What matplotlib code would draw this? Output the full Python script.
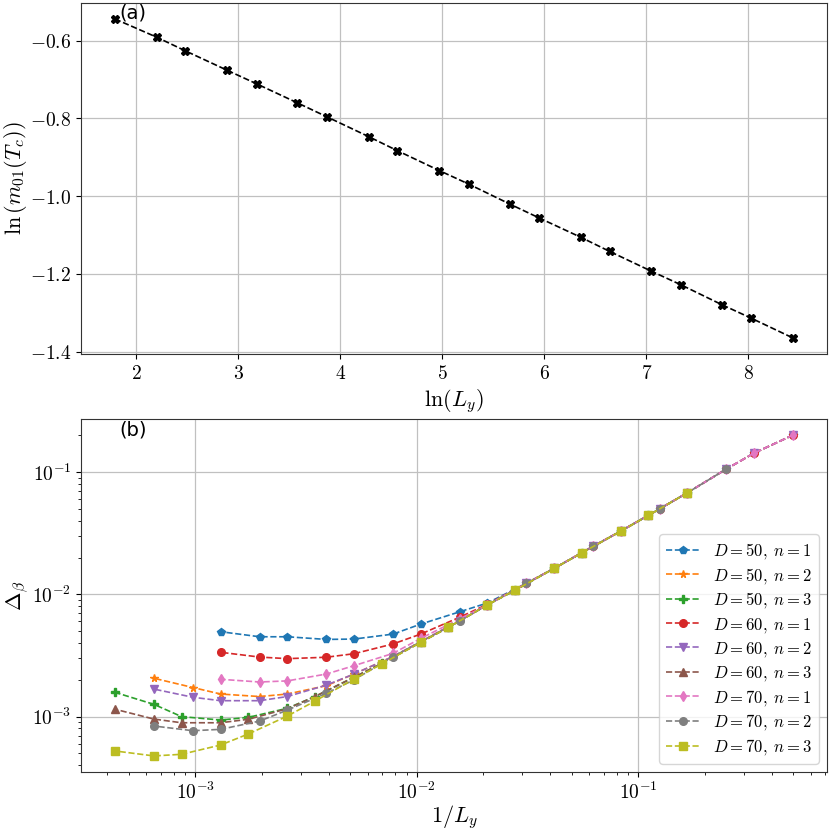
import matplotlib
matplotlib.use('Agg')
import matplotlib.pyplot as plt
from matplotlib.ticker import FuncFormatter, NullFormatter
import numpy as np

plt.rcParams['mathtext.fontset'] = 'cm'
plt.rcParams['font.size'] = 14
plt.rcParams['xtick.labelsize'] = 14
plt.rcParams['ytick.labelsize'] = 14

# ---------- panel (a) data ----------
ln_Ly = [1.79, 2.20, 2.48, 2.89, 3.18, 3.58, 3.87, 4.28, 4.56, 4.97,
         5.26, 5.66, 5.95, 6.36, 6.64, 7.05, 7.34, 7.74, 8.03, 8.44]
ln_m01 = [-0.544, -0.591, -0.626, -0.676, -0.711, -0.760, -0.796, -0.847, -0.883, -0.934,
          -0.969, -1.020, -1.056, -1.106, -1.142, -1.193, -1.228, -1.279, -1.314, -1.365]

# ---------- panel (b) data ----------
Ly_n12 = [2, 3, 4, 6, 8, 12, 16, 24, 32, 48, 64, 96, 128, 192, 256, 384, 512, 768]
Ly_n2 = [2, 3, 4, 6, 8, 12, 16, 24, 32, 48, 64, 96, 128, 192, 256, 384, 512, 768, 1024, 1536]
Ly_n3 = [6, 9, 12, 18, 24, 36, 48, 72, 96, 144, 192, 288, 384, 576, 768, 1152, 1536, 2304]
Ly_g = [4, 6, 8, 12, 16, 24, 32, 48, 64, 96, 128, 192, 256, 384, 512, 768, 1024, 1536]

d50_n1 = [0.201, 0.143, 0.106, 0.0678, 0.0501, 0.0329, 0.0247, 0.0163, 0.0123, 0.0085,
          0.0072, 0.00571, 0.00473, 0.00431, 0.00428, 0.00450, 0.00450, 0.00495]
d50_n2 = [0.201, 0.143, 0.106, 0.0678, 0.0501, 0.0329, 0.0247, 0.0163, 0.0123, 0.0082,
          0.0061, 0.0041, 0.0031, 0.00223, 0.00179, 0.00153, 0.00146, 0.00153, 0.00173, 0.00206]
d50_n3 = [0.0678, 0.0442, 0.0329, 0.0218, 0.0163, 0.0108, 0.0082, 0.00537, 0.00405, 0.00272,
          0.0021, 0.00146, 0.00117, 0.000986, 0.000938, 0.00100, 0.00126, 0.00158]
d60_n1 = [0.201, 0.143, 0.106, 0.0678, 0.0501, 0.0329, 0.0247, 0.0163, 0.0123, 0.0083,
          0.0065, 0.00473, 0.00393, 0.00327, 0.00306, 0.00298, 0.00307, 0.00336]
d60_n2 = [0.201, 0.143, 0.106, 0.0678, 0.0501, 0.0329, 0.0247, 0.0163, 0.0123, 0.0082,
          0.0061, 0.0041, 0.0031, 0.00223, 0.00181, 0.00146, 0.00135, 0.00135, 0.00144, 0.00168]
d60_n3 = [0.0678, 0.0442, 0.0329, 0.0218, 0.0163, 0.0108, 0.0082, 0.00537, 0.00405, 0.00272,
          0.0021, 0.00146, 0.00116, 0.000951, 0.000891, 0.000891, 0.000955, 0.00115]
d70_n1 = [0.201, 0.143, 0.106, 0.0678, 0.0501, 0.0329, 0.0247, 0.0163, 0.0123, 0.0082,
          0.0063, 0.00436, 0.00329, 0.00261, 0.00223, 0.00196, 0.00192, 0.00202]
d70_n2 = [0.106, 0.0678, 0.0501, 0.0329, 0.0247, 0.0163, 0.0123, 0.0082, 0.00605, 0.0041,
          0.00309, 0.0020, 0.00155, 0.00113, 0.00092, 0.000787, 0.000767, 0.000838]
d70_n3 = [0.0678, 0.0442, 0.0329, 0.0218, 0.0163, 0.0108, 0.0082, 0.00537, 0.00405, 0.00269,
          0.00203, 0.00134, 0.00101, 0.000721, 0.000586, 0.000492, 0.000477, 0.000524]

series = [
    (r'$D=50,\;n=1$', Ly_n12, d50_n1, 'p'),
    (r'$D=50,\;n=2$', Ly_n2, d50_n2, '*'),
    (r'$D=50,\;n=3$', Ly_n3, d50_n3, 'P'),
    (r'$D=60,\;n=1$', Ly_n12, d60_n1, 'o'),
    (r'$D=60,\;n=2$', Ly_n2, d60_n2, 'v'),
    (r'$D=60,\;n=3$', Ly_n3, d60_n3, '^'),
    (r'$D=70,\;n=1$', Ly_n12, d70_n1, 'd'),
    (r'$D=70,\;n=2$', Ly_g, d70_n2, 'o'),
    (r'$D=70,\;n=3$', Ly_n3, d70_n3, 's'),
]

fig = plt.figure(figsize=(8.3, 8.3), dpi=100)
ax1 = fig.add_axes([0.0976, 0.5735, 0.8988, 0.4229])
ax2 = fig.add_axes([0.0976, 0.0699, 0.8988, 0.4253])

spine_col = '#333333'
for ax in (ax1, ax2):
    for s in ax.spines.values():
        s.set_color(spine_col)
    ax.grid(True, which='major', color='#c0c0c0', lw=0.9)
    ax.set_axisbelow(True)

# panel (a)
ax1.plot(ln_Ly, ln_m01, 'k--', marker='X', ms=5.5, lw=1.2)
ax1.set_xlabel(r'$\ln(L_y)$', fontsize=16, labelpad=3)
ax1.set_ylabel(r'$\ln\left(m_{01}(T_c)\right)$', fontsize=16, labelpad=1)
ax1.xaxis.set_major_formatter(FuncFormatter(lambda v, p: f'${v:.0f}$'))
ax1.yaxis.set_major_formatter(FuncFormatter(lambda v, p: f'${v:.1f}$'))
ax1.text(0.052, 0.972, '(a)', transform=ax1.transAxes, fontsize=14,
         family='DejaVu Sans', ha='left', va='center')

# panel (b)
for label, Ly, d, m in series:
    x = [1.0 / L for L in Ly]
    ax2.plot(x, d, '--', marker=m, ms=5.5, lw=1.2, label=label)
ax2.set_xscale('log')
ax2.set_yscale('log')
logfmt = FuncFormatter(lambda v, p: f'$10^{{{int(round(np.log10(v)))}}}$')
ax2.xaxis.set_major_formatter(logfmt)
ax2.yaxis.set_major_formatter(logfmt)
ax2.xaxis.set_minor_formatter(NullFormatter())
ax2.yaxis.set_minor_formatter(NullFormatter())
ax2.set_xlabel(r'$1/L_y$', fontsize=16, labelpad=0)
ax2.set_ylabel(r'$\Delta_\beta$', fontsize=16, labelpad=1)
ax2.text(0.052, 0.969, '(b)', transform=ax2.transAxes, fontsize=14,
         family='DejaVu Sans', ha='left', va='center')
ax2.legend(loc='lower right', fontsize=12, labelspacing=0.28)

fig.savefig('out.png', dpi=100)
